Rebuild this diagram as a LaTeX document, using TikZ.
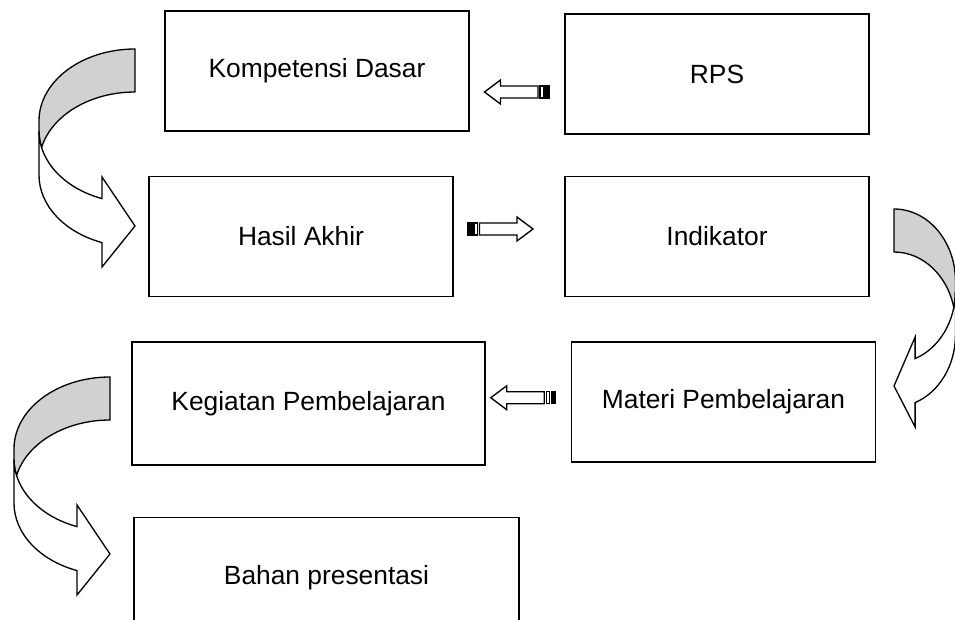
\documentclass[tikz,border=0pt]{standalone}
\usepackage{fontspec}
\setmainfont{Liberation Sans}
\usetikzlibrary{calc}
\newcommand{\px}{0.16mm}
\definecolor{bandgrey}{RGB}{209,209,209}
\tikzset{
  stepbox/.style={draw,line width=0.9pt,minimum width=304*\px,minimum height=120*\px,inner sep=0pt,font=\fontsize{12}{14}\selectfont},
  bend/.pic={
    \draw[line width=0.6pt,fill=bandgrey](0,0)arc[start angle=90,end angle=180,x radius=96,y radius=72]--(-96,-82)
      arc[start angle=180,end angle=193.25,x radius=96,y radius=72]
      arc[start angle=166.75,end angle=90,x radius=96,y radius=72]--cycle;
    \draw[line width=0.6pt,fill=white](-96,-82)arc[start angle=180,end angle=249.9,x radius=96,y radius=72]
      --(-33,-128)--(0,-177)--(-33,-218)--(-33,-193.6)
      arc[start angle=249.9,end angle=180,x radius=96,y radius=72]--cycle;
  },
  flatarrow/.pic={
    \draw[line width=0.6pt,fill=black](-32.5,-6)rectangle(-28,6);
    \draw[line width=0.6pt](-26.5,-6)rectangle(-23,6);
    \draw[line width=0.6pt](-21,-6)--(16.5,-6)--(16.5,-12)--(32.5,0)--(16.5,12)--(16.5,6)--(-21,6)--cycle;
  }
}
\begin{document}
\begin{tikzpicture}[x=\px,y=\px]
\useasboundingbox(0,0)rectangle(955,-620);
\node[stepbox](kd)at(317,-71){Kompetensi Dasar};
\node[stepbox](rps)at(717,-74){RPS};
\node[stepbox](ha)at(301,-236.5){Hasil Akhir};
\node[stepbox](ind)at(717,-236.5){Indikator};
\node[stepbox,minimum width=353*\px,minimum height=123*\px](kp)at(308.5,-403.5){Kegiatan Pembelajaran};
\node[stepbox](mp)at(723.5,-402){Materi Pembelajaran};
\node[stepbox,minimum width=385*\px](bp)at(326.5,-577.5){Bahan presentasi};
\pic[rotate=180]at($(kd.east)!0.5!(rps.west)+(0,-19.5)$){flatarrow};
\pic at($(ha.east)!0.5!(ind.west)+(-8.5,7.5)$){flatarrow};
\pic[rotate=180]at($(kp.east)!0.5!(mp.west)+(-5,5)$){flatarrow};
\pic at(135,-49){bend};
\pic[xscale=-0.64]at(894,-209){bend};
\pic at(110,-377){bend};
\end{tikzpicture}
\end{document}
